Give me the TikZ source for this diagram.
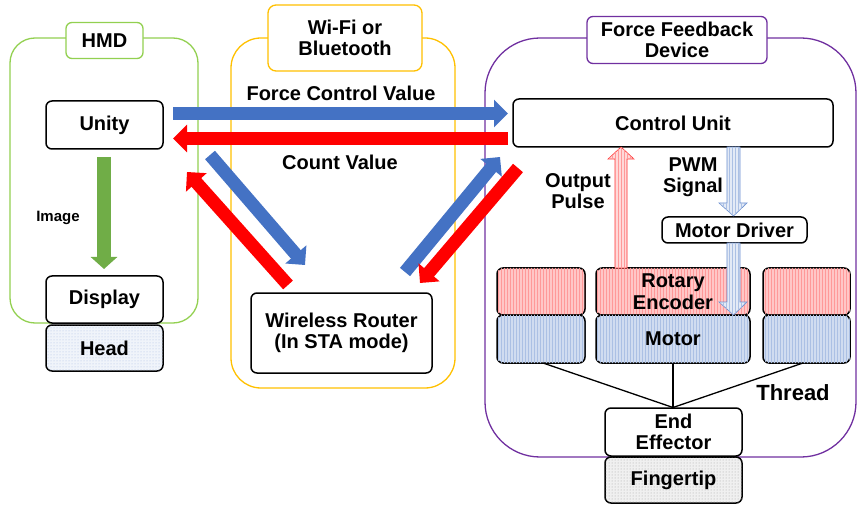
\documentclass[tikz,border=0pt]{standalone}
\usepackage{fontspec}
\setmainfont{Liberation Sans}
\usetikzlibrary{arrows.meta,patterns}
\definecolor{cblue}{HTML}{4472C4}
\definecolor{cred}{HTML}{FF0000}
\definecolor{cgreen}{HTML}{70AD47}
\definecolor{lgreen}{HTML}{92D050}
\definecolor{cyellow}{HTML}{FFC000}
\definecolor{cpurple}{HTML}{7030A0}
\begin{document}
\begin{tikzpicture}[x=1pt,y=-1pt,
  txt/.style={font=\fontsize{20}{21.5}\selectfont\bfseries, align=center, inner sep=0pt},
  box/.style={txt, draw=black, line width=1.5pt, rounded corners=6pt, fill=white},
  cont/.style={line width=1.3pt, rounded corners=#1},
  fat/.style={line width=13pt, -{Triangle[width=27pt,length=14pt]}},
  redpat/.style={fill=red!22, postaction={pattern=vertical lines, pattern color=red!40}},
  bluepat/.style={fill=cblue!25, postaction={pattern=vertical lines, pattern color=cblue!45}},
  dotblue/.style={fill=cblue!8, postaction={pattern=dots, pattern color=cblue!45}},
  dotgray/.style={fill=gray!12, postaction={pattern=dots, pattern color=gray!70}},
  hollowred/.style={draw=red!80, line width=0.6pt, fill=red!15, postaction={pattern=vertical lines, pattern color=red!40}},
  hollowblue/.style={draw=cblue!80, line width=0.6pt, fill=cblue!15, postaction={pattern=vertical lines, pattern color=cblue!45}}
]
\useasboundingbox (0,0) rectangle (857,505);

% containers
\draw[cont=25pt, lgreen] (10,38) rectangle (198,323);
\draw[cont=30pt, cyellow] (231,38) rectangle (455,388);
\draw[cont=55pt, cpurple] (485,38) rectangle (856,457);

% container labels
\node[txt, draw=lgreen, line width=1.3pt, rounded corners=6pt, fill=white, minimum width=77, minimum height=36] (lhmd) at (104.5,40.5) {HMD};
\node[txt, draw=cyellow, line width=1.3pt, rounded corners=8pt, fill=white, minimum width=154, minimum height=66] (lwifi) at (345,38) {Wi-Fi or\\Bluetooth};
\node[txt, draw=cpurple, line width=1.3pt, rounded corners=6pt, fill=white, minimum width=180, minimum height=47] (lffd) at (677,40) {Force Feedback\\Device};

% fat arrows
\coordinate (fcvS) at (173,113.5); \coordinate (fcvE) at (508,113.5);
\coordinate (cvS) at (508,138.5);  \coordinate (cvE) at (173,138.5);
\coordinate (lbS) at (210,155);    \coordinate (lbE) at (305,265);
\coordinate (lrS) at (288,285);    \coordinate (lrE) at (187,172);
\coordinate (rbS) at (405,272);    \coordinate (rbE) at (500,157);
\coordinate (rrS) at (518,168);    \coordinate (rrE) at (420,283);
\draw[fat, cblue] (fcvS) -- (fcvE);
\draw[fat, cred] (cvS) -- (cvE);
\draw[fat, cblue] (lbS) -- (lbE);
\draw[fat, cred] (lrS) -- (lrE);
\draw[fat, cblue] (rbS) -- (rbE);
\draw[fat, cred] (rrS) -- (rrE);

\node[txt] (tfcv) at (341,93) {Force Control Value};
\node[txt] (tcv) at (340,162) {Count Value};

% HMD boxes
\node[box, minimum width=117, minimum height=48] (unity) at (104.5,125) {Unity};
\node[box, minimum width=117, minimum height=47] (display) at (104.5,299.5) {Display};
\node[box, dotblue, minimum width=117, minimum height=46] (head) at (104.5,348) {Head};
\draw[line width=14pt, cgreen, -{Triangle[width=26pt,length=12pt]}] (104,157) -- (104,269);
\node[txt, font=\fontsize{15}{17}\selectfont\bfseries] (timg) at (58,218) {Image};

% router
\node[box, minimum width=181, minimum height=80] (router) at (341.5,333) {Wireless Router\\(In STA mode)};

% force feedback device
\node[box, minimum width=320, minimum height=48] (cu) at (673,123) {Control Unit};
\node[box, minimum width=145, minimum height=26] (md) at (734.5,230) {Motor Driver};
\node[box, redpat, minimum width=88, minimum height=47] (enc1) at (541,291.5) {};
\node[box, redpat, minimum width=154, minimum height=47] (enc2) at (673,291.5) {Rotary\\Encoder};
\node[box, redpat, minimum width=87, minimum height=47] (enc3) at (806.5,291.5) {};
\node[box, bluepat, minimum width=88, minimum height=48] (mot1) at (541,339) {};
\node[box, bluepat, minimum width=154, minimum height=48] (mot2) at (673,339) {Motor};
\node[box, bluepat, minimum width=87, minimum height=48] (mot3) at (806.5,339) {};
\node[box, minimum width=137, minimum height=48] (ee) at (673.5,432) {End\\Effector};
\node[box, dotgray, minimum width=137, minimum height=46] (finger) at (673.5,480) {Fingertip};

% threads
\coordinate (conv) at (673,407.5);
\draw[line width=1.3pt] (543,363) -- (conv);
\draw[line width=1.3pt] (mot2.south) -- (conv);
\draw[line width=1.3pt] (803,363) -- (conv);
\node[txt, font=\fontsize{22}{24}\selectfont\bfseries] (tthread) at (793,393) {Thread};

% hollow arrows
\draw[hollowred] (615,268) -- (627,268) -- (627,159) -- (634,159) -- (621,147) -- (608,159) -- (615,159) -- cycle;
\draw[hollowblue] (727,147) -- (740,147) -- (740,203) -- (747,203) -- (733.5,216) -- (719,203) -- (727,203) -- cycle;
\draw[hollowblue] (727,243) -- (740,243) -- (740,302) -- (747,302) -- (733.5,315) -- (719,302) -- (727,302) -- cycle;
\node[txt] (top) at (578,191) {Output\\Pulse};
\node[txt] (tpwm) at (693,177) {PWM\\Signal};
\end{tikzpicture}
\end{document}
